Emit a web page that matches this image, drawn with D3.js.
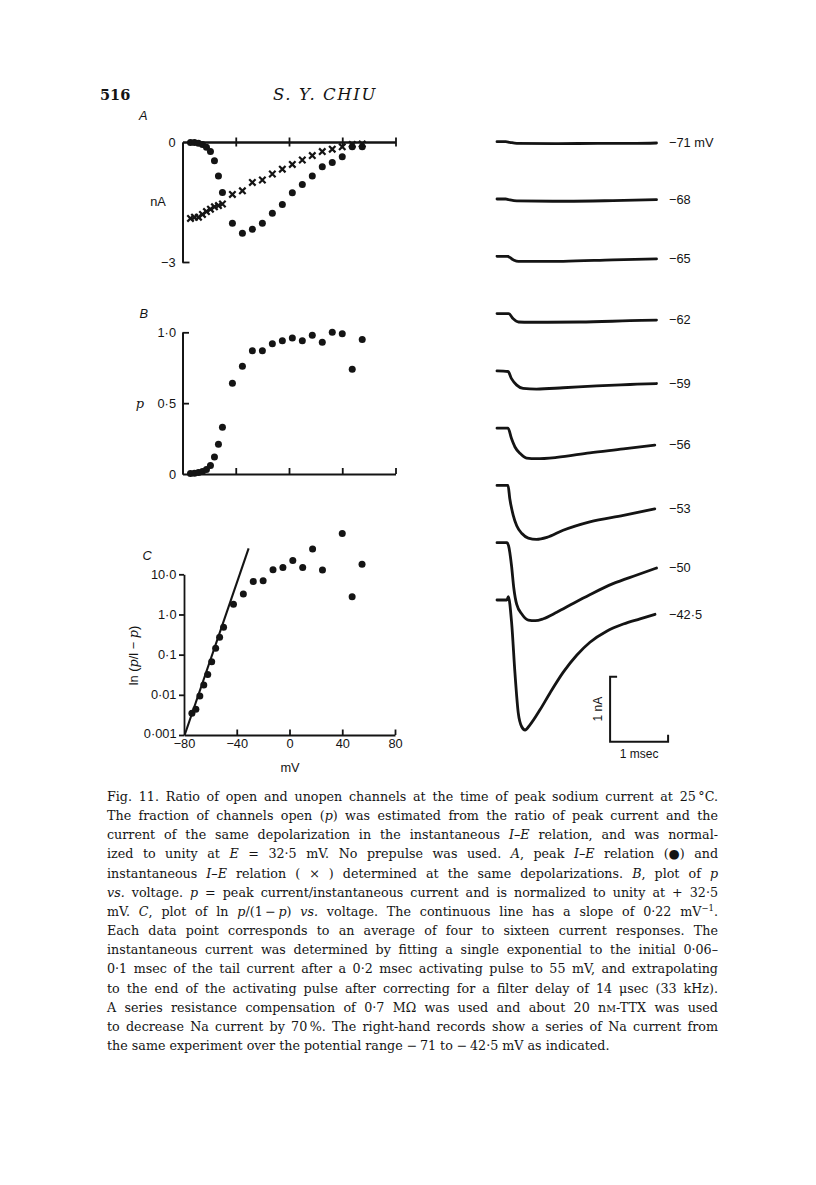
<!DOCTYPE html>
<html><head><meta charset="utf-8">
<script src="https://cdn.jsdelivr.net/npm/d3@7"></script>
<style>
html,body{margin:0;padding:0;background:#fff;}
svg{display:block;}
</style></head><body>
<svg id="fig" width="816" height="1185"></svg>
<script>
// ---------------- DATA ----------------
const voltages    = [-74, -71, -68, -65, -62, -59, -56, -53, -50, -42.5, -35, -27.5, -20, -12.5, -5, 2.5, 10, 17.5, 25, 32.5, 40, 47.5, 55];
const peakCurrent = [-0.01, -0.015, -0.03, -0.065, -0.13, -0.24, -0.47, -0.85, -1.26, -2.03, -2.28, -2.18, -2.03, -1.78, -1.56, -1.27, -1.06, -0.85, -0.62, -0.51, -0.37, -0.12, -0.12];
const instCurrent = [-1.91, -1.88, -1.88, -1.81, -1.74, -1.68, -1.62, -1.59, -1.55, -1.31, -1.22, -1.01, -0.95, -0.80, -0.68, -0.56, -0.45, -0.34, -0.24, -0.18, -0.12, -0.06, -0.05];
const pOpen       = [0.003, 0.005, 0.01, 0.017, 0.032, 0.06, 0.12, 0.21, 0.33, 0.64, 0.76, 0.87, 0.87, 0.92, 0.94, 0.96, 0.94, 0.98, 0.93, 1.0, 0.99, 0.74, 0.95];
const ratioVoltages = [-74, -71, -68, -65, -62, -59, -56, -53, -50, -42.5, -35, -27.5, -20, -12.5, -5, 2.5, 10, 17.5, 25, 40, 47.5, 55];
const ratioValues   = [0.0035, 0.0044, 0.0093, 0.0176, 0.032, 0.067, 0.144, 0.27, 0.48, 1.79, 3.24, 6.6, 6.9, 12.9, 14.7, 21.9, 14.7, 42.6, 12.8, 104, 2.78, 17.7];
const fitVoltages = [-79.5, -31];
const fitValues   = [0.001, 44.4];

const xTicks = [-80, -40, 0, 40, 80];
const xTickLabels = ["\u221280", "\u221240", "0", "40", "80"];
const aTicks = [0, -3];          const aTickLabels = ["0", "\u22123"];
const bTicks = [0, 0.5, 1];      const bTickLabels = ["0", "0\u00b75", "1\u00b70"];
const cTicks = [0.001, 0.01, 0.1, 1, 10];
const cTickLabels = ["0\u00b7001", "0\u00b701", "0\u00b71", "1\u00b70", "10\u00b70"];

// current records: [time (msec), current (nA)]
const traceLabels = ["\u221271 mV", "\u221268", "\u221265", "\u221262", "\u221259", "\u221256", "\u221253", "\u221250", "\u221242\u00b75"];
const trace71 = [[0,0],[0.15,0],[0.22,-0.01],[0.34,-0.025],[1.0,-0.03],[1.8,-0.025],[2.4,-0.025],[2.75,-0.02]];
const trace68 = [[0,0],[0.15,0],[0.2,-0.01],[0.34,-0.03],[1.2,-0.035],[2.0,-0.025],[2.75,-0.01]];
const trace65 = [[0,0],[0.18,0],[0.28,-0.055],[0.37,-0.08],[1.14,-0.077],[2.0,-0.055],[2.75,-0.04]];
const trace62 = [[0,0],[0.2,0],[0.28,-0.08],[0.37,-0.13],[0.57,-0.134],[1.43,-0.13],[2.29,-0.11],[2.75,-0.1]];
const trace59 = [[0,0],[0.19,-0.01],[0.25,-0.12],[0.34,-0.22],[0.45,-0.27],[0.68,-0.28],[1.14,-0.26],[1.72,-0.23],[2.29,-0.21],[2.75,-0.195]];
const trace56 = [[0,0],[0.19,0],[0.25,-0.16],[0.31,-0.29],[0.4,-0.39],[0.51,-0.46],[0.68,-0.47],[1.03,-0.45],[1.6,-0.38],[2.18,-0.32],[2.72,-0.26]];
const trace53 = [[0,0],[0.19,0],[0.22,-0.2],[0.28,-0.46],[0.34,-0.62],[0.43,-0.74],[0.54,-0.81],[0.68,-0.83],[0.86,-0.8],[1.14,-0.69],[1.6,-0.56],[2.18,-0.46],[2.72,-0.36]];
const trace50 = [[0,0],[0.17,0],[0.2,-0.05],[0.25,-0.35],[0.29,-0.7],[0.34,-0.95],[0.43,-1.1],[0.54,-1.19],[0.66,-1.2],[0.8,-1.17],[1.03,-1.07],[1.32,-0.93],[1.6,-0.8],[2.0,-0.63],[2.4,-0.5],[2.75,-0.39]];
const trace42 = [[0,0],[0.17,0],[0.195,0.05],[0.253,-0.36],[0.31,-1.13],[0.367,-1.74],[0.426,-1.95],[0.483,-2.0],[0.569,-1.92],[0.741,-1.69],[0.914,-1.43],[1.143,-1.11],[1.374,-0.85],[1.603,-0.65],[1.891,-0.48],[2.178,-0.37],[2.466,-0.29],[2.724,-0.22]];
const traces = [trace71, trace68, trace65, trace62, trace59, trace56, trace53, trace50, trace42];

// caption (segments: [text, style])
const captionLines = [
  [["Fig. 11. Ratio of open and unopen channels at the time of peak sodium current at 25\u202f\u00b0C."]],
  [["The fraction of channels open ("],["p","i"],[") was estimated from the ratio of peak current and the"]],
  [["current of the same depolarization in the instantaneous "],["I\u2013E","i"],[" relation, and was normal-"]],
  [["ized to unity at "],["E","i"],[" = 32\u00b75 mV. No prepulse was used. "],["A","i"],[", peak "],["I\u2013E","i"],[" relation (\u25cf) and"]],
  [["instantaneous "],["I\u2013E","i"],[" relation ( \u00d7 ) determined at the same depolarizations. "],["B","i"],[", plot of "],["p","i"]],
  [["vs.","i"],[" voltage. "],["p","i"],[" = peak current/instantaneous current and is normalized to unity at + 32\u00b75"]],
  [["mV. "],["C","i"],[", plot of ln "],["p","i"],["/(1\u2009\u2212\u2009"],["p","i"],[") "],["vs.","i"],[" voltage. The continuous line has a slope of 0\u00b722 mV"],["\u22121","sup"],["."]],
  [["Each data point corresponds to an average of four to sixteen current responses. The"]],
  [["instantaneous current was determined by fitting a single exponential to the initial 0\u00b706\u2013"]],
  [["0\u00b71 msec of the tail current after a 0\u00b72 msec activating pulse to 55 mV, and extrapolating"]],
  [["to the end of the activating pulse after correcting for a filter delay of 14 \u03bcsec (33 kHz)."]],
  [["A series resistance compensation of 0\u00b77 M\u03a9 was used and about 20 n"],["M","sc"],["-TTX was used"]],
  [["to decrease Na current by 70\u202f%. The right-hand records show a series of Na current from"]],
  [["the same experiment over the potential range \u2212\u200971 to \u2212\u200942\u00b75 mV as indicated."]]
];

// ---------------- DRAWING ----------------
const svg = d3.select("#fig");
const ink = "#141414";
const sans = "'Liberation Sans', Arial, Helvetica, sans-serif";
const serif = "'DejaVu Serif', serif";

function styleAxis(g, fs) {
  g.selectAll("path, line").attr("stroke", ink).attr("stroke-width", 1.8);
  g.selectAll("text").attr("fill", ink).attr("font-family", sans).attr("font-size", fs || 12.8);
  g.attr("font-family", null).attr("font-size", null);
}
function label(x, y, txt, opts = {}) {
  return svg.append("text").attr("x", x).attr("y", y).text(txt)
    .attr("font-family", opts.family || sans).attr("font-size", opts.size || 12.8)
    .attr("font-style", opts.italic ? "italic" : null)
    .attr("text-anchor", opts.anchor || "start").attr("fill", ink);
}
const crossPath = "M-3.2,-3.2L3.2,3.2M-3.2,3.2L3.2,-3.2";

// header
label(100, 100, "516", {family: serif, size: 14.5}).attr("font-weight", "bold");
label(325, 100, "S. Y. CHIU", {family: serif, size: 16.5, italic: true, anchor: "middle"}).attr("letter-spacing", 1.6);

// ---- Panel A ----
const xA = d3.scaleLinear().domain([-80, 80]).range([182.5, 395.5]);
const yA = d3.scaleLinear().domain([0, -3]).range([142, 262]);
label(139, 119.5, "A", {italic: true, size: 12.8});
let g = svg.append("g").attr("transform", `translate(0,${yA(0)})`)
  .call(d3.axisTop(xA).tickValues(xTicks.slice(1)).tickSize(4.5).tickSizeOuter(0).tickFormat(""));
styleAxis(g);
g = svg.append("g").attr("transform", `translate(0,${yA(0)})`)
  .call(d3.axisBottom(xA).tickValues(xTicks.slice(1)).tickSize(4.5).tickSizeOuter(0).tickFormat(""));
styleAxis(g);
g = svg.append("g").attr("transform", `translate(${xA(-80)},0)`)
  .call(d3.axisLeft(yA).tickValues(aTicks).tickSize(0).tickSizeOuter(0).tickPadding(7)
    .tickFormat(d => aTickLabels[aTicks.indexOf(d)]));
styleAxis(g);
g = svg.append("g").attr("transform", `translate(${xA(-80)},0)`)
  .call(d3.axisRight(yA).tickValues([-3]).tickSize(7).tickSizeOuter(0).tickFormat(""));
styleAxis(g);
label(158, 206, "nA", {anchor: "middle"});

svg.append("g").selectAll("path").data(voltages).join("path")
  .attr("d", crossPath).attr("transform", (d, i) => `translate(${xA(d)},${yA(instCurrent[i])})`)
  .attr("stroke", ink).attr("stroke-width", 2.2).attr("fill", "none");
svg.append("g").selectAll("circle").data(voltages).join("circle")
  .attr("cx", d => xA(d)).attr("cy", (d, i) => yA(peakCurrent[i])).attr("r", 3.5).attr("fill", ink);

// ---- Panel B ----
const xB = d3.scaleLinear().domain([-80, 80]).range([182.5, 395.5]);
const yB = d3.scaleLinear().domain([0, 1]).range([474, 332.3]);
label(139.5, 317.5, "B", {italic: true, size: 12.8});
g = svg.append("g").attr("transform", `translate(0,${yB(0)})`)
  .call(d3.axisTop(xB).tickValues(xTicks.slice(1)).tickSize(6).tickSizeOuter(0).tickFormat(""));
styleAxis(g);
g = svg.append("g").attr("transform", `translate(${xB(-80)},0)`)
  .call(d3.axisLeft(yB).tickValues(bTicks).tickSize(0).tickSizeOuter(0).tickPadding(6.5)
    .tickFormat(d => bTickLabels[bTicks.indexOf(d)]));
styleAxis(g);
g = svg.append("g").attr("transform", `translate(${xB(-80)},0)`)
  .call(d3.axisRight(yB).tickValues([0.5, 1]).tickSize(6.5).tickSizeOuter(0).tickFormat(""));
styleAxis(g);
label(140, 407.5, "p", {italic: true, family: serif, size: 13, anchor: "middle"});
svg.append("g").selectAll("circle").data(voltages).join("circle")
  .attr("cx", d => xB(d)).attr("cy", (d, i) => yB(pOpen[i])).attr("r", 3.5).attr("fill", ink);

// ---- Panel C ----
const xC = d3.scaleLinear().domain([-80, 80]).range([184, 395]);
const yC = d3.scaleLog().domain([0.001, 10]).range([735, 574.3]);
label(142.5, 559.5, "C", {italic: true, size: 12.8});
g = svg.append("g").attr("transform", `translate(0,${yC(0.001)})`)
  .call(d3.axisBottom(xC).tickValues(xTicks).tickSize(-5.5).tickSizeOuter(0).tickPadding(3.5)
    .tickFormat(d => xTickLabels[xTicks.indexOf(d)]));
styleAxis(g);
g.selectAll(".tick").filter(d => d === -80).select("line").remove();
g = svg.append("g").attr("transform", `translate(${xC(-80)},0)`)
  .call(d3.axisLeft(yC).tickValues(cTicks).tickSize(5).tickSizeOuter(0).tickPadding(2.5)
    .tickFormat(d => cTickLabels[cTicks.indexOf(d)]));
styleAxis(g);
g.selectAll(".tick").filter(d => d === 0.001).select("text").attr("dy", "0.2em");
label(290, 772, "mV", {anchor: "middle"});
const yl = svg.append("text").attr("transform", "translate(137.5,655.5) rotate(-90)")
  .attr("text-anchor", "middle").attr("font-family", sans).attr("font-size", 12.8).attr("fill", ink);
yl.append("tspan").text("ln (");
yl.append("tspan").text("p").attr("font-style", "italic").attr("font-family", serif);
yl.append("tspan").text("/l \u2212 ");
yl.append("tspan").text("p").attr("font-style", "italic").attr("font-family", serif);
yl.append("tspan").text(")");

svg.append("path")
  .attr("d", d3.line().x(d => xC(d)).y((d, i) => yC(fitValues[i]))(fitVoltages))
  .attr("stroke", ink).attr("stroke-width", 2.1).attr("fill", "none");
svg.append("g").selectAll("circle").data(ratioVoltages).join("circle")
  .attr("cx", d => xC(d)).attr("cy", (d, i) => yC(ratioValues[i])).attr("r", 3.5).attr("fill", ink);

// ---- Current records ----
const xT = d3.scaleLinear().domain([0, 1]).range([497, 555]);      // msec
const yBase = d3.scalePoint().domain(traceLabels).range([141.7, 600]);
const yI = d3.scaleLinear().domain([0, -1]).range([0, 65]);         // nA
const trLine = d3.line().x(d => xT(d[0])).y(d => yI(d[1])).curve(d3.curveMonotoneX);
traces.forEach((tr, k) => {
  const base = yBase(traceLabels[k]);
  svg.append("path").attr("transform", `translate(0,${base})`).attr("d", trLine(tr))
    .attr("stroke", ink).attr("stroke-width", 2.8).attr("fill", "none")
    .attr("stroke-linejoin", "round").attr("stroke-linecap", "round");
  const last = tr[tr.length - 1];
  label(669, base + yI(last[1]) + 4.4, traceLabels[k], {size: 12.8});
});
// scale bar 1 nA / 1 msec
const sbx = xT(1.95), sby = 741.7;
const sbH = yI(-1) - yI(0), sbW = xT(1) - xT(0);
svg.append("path")
  .attr("d", `M${sbx + 7},${sby - sbH}H${sbx}V${sby}H${sbx + sbW}V${sby - 7}`)
  .attr("stroke", ink).attr("stroke-width", 2).attr("fill", "none");
svg.append("text").attr("transform", `translate(${sbx - 8.5},${sby - sbH / 2}) rotate(-90)`)
  .attr("text-anchor", "middle").attr("font-family", sans).attr("font-size", 12).attr("fill", ink).text("1 nA");
label(sbx + sbW / 2, 757.5, "1 msec", {anchor: "middle", size: 12});

// ---- Caption ----
const capX = 107, capW = 611, capY0 = 801, capDY = 19.15;
captionLines.forEach((segs, li) => {
  const t = svg.append("text").attr("x", capX).attr("y", capY0 + li * capDY)
    .attr("font-family", serif).attr("font-size", 12.7).attr("fill", ink);
  segs.forEach(s => {
    const ts = t.append("tspan").text(s[0]);
    if (s[1] === "i") ts.attr("font-style", "italic");
    if (s[1] === "sup") ts.attr("font-size", 8.5).attr("dy", -5);
    if (s[1] === "sc") ts.attr("font-size", 9.5);
  });
  segs.forEach((s, si) => {
    if (s[1] === "sup") {
      const nodes = t.selectAll("tspan").nodes();
      if (nodes[si + 1]) d3.select(nodes[si + 1]).attr("dy", 5);
    }
  });
  if (li < captionLines.length - 1) {
    const w = t.node().getComputedTextLength();
    const full = segs.map(s => s[0]).join("");
    const spaces = (full.match(/ /g) || []).length;
    if (spaces > 0) t.attr("word-spacing", (capW - w) / spaces);
  }
});
</script>
</body></html>
